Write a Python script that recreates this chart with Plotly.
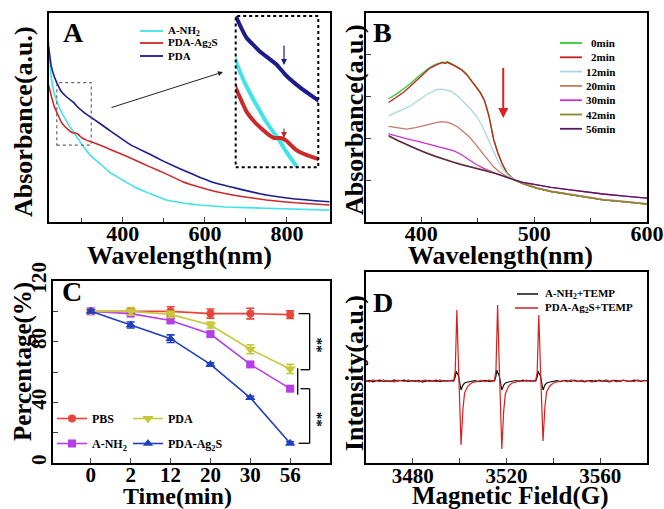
import plotly.graph_objects as go

W, H = 664, 509
def X(px): return px / W
def Y(py): return 1 - py / H

FONT = "Liberation Serif"

# ---------------- Panel A data (UV-vis) ----------------
a_nh2_nm = [219, 225, 232, 239, 247, 255, 262, 269, 276, 283, 290, 300, 320, 343, 370, 400, 430, 465, 506, 550, 587, 650, 750, 904]
a_nh2_abs = [0.863, 0.70, 0.62, 0.578, 0.54, 0.509, 0.485, 0.461, 0.441, 0.422, 0.40, 0.372, 0.32, 0.281, 0.235, 0.20, 0.165, 0.137, 0.105, 0.09, 0.081, 0.072, 0.066, 0.057]
pda_ag2s_nm = [219, 226, 233, 239, 250, 258, 266, 272, 278, 285, 290, 295, 300, 310, 323, 345, 372, 420, 465, 500, 546, 590, 628, 690, 750, 820, 904]
pda_ag2s_abs = [0.655, 0.60, 0.552, 0.525, 0.478, 0.458, 0.443, 0.433, 0.426, 0.426, 0.421, 0.412, 0.403, 0.393, 0.384, 0.367, 0.345, 0.305, 0.265, 0.235, 0.193, 0.165, 0.145, 0.122, 0.105, 0.092, 0.081]
pda_nm = [219, 225, 233, 239, 250, 263, 280, 290, 305, 323, 345, 372, 420, 465, 500, 546, 590, 628, 690, 750, 820, 904]
pda_abs = [0.839, 0.751, 0.695, 0.667, 0.624, 0.598, 0.572, 0.550, 0.525, 0.500, 0.47, 0.432, 0.368, 0.325, 0.29, 0.249, 0.212, 0.185, 0.155, 0.129, 0.11, 0.097]

# ---------------- Panel B data (time series spectra) ----------------
b_labels = ["0min", "2min", "12min", "20min", "30min", "42min", "56min"]
b_colors = ["#33cc33", "#c82020", "#a8d8e6", "#c47a66", "#cc33cc", "#8a8a2a", "#5a1a5a"]
nm_0 = [371, 378, 384, 390, 396, 401, 405, 409, 413, 416, 419, 421, 423, 426, 429, 432, 436, 440, 444, 448, 452, 456, 460, 464, 468, 472, 476, 480, 483, 490, 502, 515, 532, 546, 561, 580, 600]
abs_0 = [2.95, 3.06, 3.18, 3.30, 3.45, 3.57, 3.65, 3.72, 3.78, 3.80, 3.83, 3.81, 3.84, 3.80, 3.76, 3.72, 3.65, 3.55, 3.40, 3.28, 3.12, 2.92, 2.55, 2.00, 1.65, 1.38, 1.18, 1.07, 1.00, 0.92, 0.81, 0.73, 0.65, 0.59, 0.53, 0.48, 0.43]
abs_2 = [2.86, 2.98, 3.10, 3.24, 3.40, 3.53, 3.62, 3.70, 3.76, 3.79, 3.81, 3.79, 3.82, 3.77, 3.74, 3.70, 3.63, 3.53, 3.38, 3.26, 3.10, 2.90, 2.52, 1.98, 1.63, 1.37, 1.17, 1.06, 1.00, 0.92, 0.81, 0.73, 0.65, 0.59, 0.53, 0.48, 0.43]
nm_12 = [371, 380, 390, 398, 405, 410, 414, 418, 422, 426, 432, 437, 443, 449, 454, 458, 463, 468, 472, 477, 483, 490, 502, 515, 532, 546, 561, 580, 600]
abs_12 = [2.54, 2.64, 2.77, 2.92, 3.05, 3.12, 3.17, 3.18, 3.16, 3.13, 3.02, 2.89, 2.72, 2.53, 2.30, 2.05, 1.73, 1.45, 1.27, 1.12, 1.00, 0.93, 0.82, 0.74, 0.66, 0.60, 0.54, 0.49, 0.44]
nm_20 = [371, 380, 387, 395, 405, 412, 417, 422, 426, 432, 437, 442, 446, 451, 455, 460, 464, 469, 473, 478, 483, 490, 502, 515, 532, 546, 561, 580, 600]
abs_20 = [2.29, 2.25, 2.22, 2.26, 2.33, 2.38, 2.40, 2.39, 2.36, 2.28, 2.17, 2.05, 1.93, 1.76, 1.62, 1.45, 1.32, 1.20, 1.13, 1.06, 1.00, 0.93, 0.82, 0.74, 0.66, 0.60, 0.54, 0.49, 0.44]
nm_30 = [371, 380, 390, 398, 405, 412, 420, 429, 435, 440, 445, 449, 455, 461, 466, 470, 477, 483, 490, 502, 515, 532, 546, 561, 580, 600]
abs_30 = [2.11, 2.04, 1.97, 1.92, 1.87, 1.83, 1.77, 1.70, 1.62, 1.53, 1.44, 1.37, 1.29, 1.21, 1.16, 1.12, 1.05, 1.00, 0.95, 0.89, 0.83, 0.77, 0.72, 0.67, 0.62, 0.57]
nm_42 = [371, 380, 390, 398, 405, 412, 420, 428, 435, 443, 449, 455, 461, 467, 473, 478, 483, 490, 502, 515, 532, 546, 561, 580, 600]
abs_42 = [2.05, 1.93, 1.81, 1.72, 1.65, 1.58, 1.51, 1.44, 1.38, 1.33, 1.29, 1.25, 1.21, 1.15, 1.10, 1.05, 1.00, 0.92, 0.81, 0.73, 0.65, 0.59, 0.53, 0.48, 0.43]
abs_56 = [2.07, 1.94, 1.82, 1.72, 1.64, 1.57, 1.50, 1.43, 1.37, 1.32, 1.28, 1.24, 1.20, 1.15, 1.10, 1.05, 1.00, 0.95, 0.89, 0.83, 0.77, 0.72, 0.67, 0.62, 0.57]

# ---------------- Panel C data ----------------
c_times = ["0", "2", "12", "20", "30", "56"]
pbs_pct = [100, 100, 100, 98.5, 98.5, 97.8]
pbs_err = [1, 1.5, 3, 3, 3.5, 2.5]
pda_pct = [100, 100, 98, 91, 75, 62]
pda_err = [1, 2.5, 2, 2, 3, 3]
anh2_pct = [100, 98.5, 94, 85, 65, 49]
anh2_err = [1, 1, 1.5, 1.5, 1, 1]
ag2s_pct = [100, 91, 82, 65, 43, 13]
ag2s_err = [1, 2, 2.5, 1, 1, 1]

# ---------------- Panel D data (EPR) ----------------
d_field = [3460, 3461.5, 3463, 3464.5, 3466, 3467.5, 3469, 3470.5, 3472, 3473.5, 3475, 3476.5, 3478, 3479.5, 3481, 3482.5, 3484, 3485.5, 3487, 3488.5, 3490, 3491.5, 3493, 3494.5, 3496,
           3497.5, 3498.1, 3498.5, 3498.8, 3499.5, 3499.9, 3500.6, 3501.4, 3502.1, 3503.5, 3505,
           3506.5, 3508, 3509.5, 3511, 3512.5, 3514,
           3514.9, 3515.5, 3515.9, 3516.2, 3516.9, 3517.3, 3518.0, 3518.8, 3519.5, 3520.9, 3522.4,
           3524, 3525.5, 3527, 3528.5, 3530, 3531.2,
           3532.5, 3533.1, 3533.5, 3533.8, 3534.5, 3534.9, 3535.6, 3536.4, 3537.1, 3538.5, 3540,
           3541.5, 3543, 3544.5, 3546, 3547.5, 3549, 3550.5, 3552, 3553.5, 3555, 3556.5, 3558, 3559.5, 3561, 3562.5, 3564, 3565.5, 3567, 3568.5, 3570, 3571.5, 3573, 3574.5, 3576, 3577.5, 3579, 3580]
d_red = [0.5, -0.8, 1.0, 0.2, -0.6, 1.2, -0.3, 0.4, -1.0, 0.8, 0.0, -0.5, 1.1, -0.2, 0.6, -0.9, 0.3, 0.9, -0.4, 0.2, -0.7, 1.0, -0.1, 0.5, 0.8,
         1, 10, 40, 71, 15, -20, -64, -28, -12, -5, -2,
         -1.0, -0.2, 0.6, -0.5, 0.9, 0.2,
         1, 11, 42, 76, 16, -21, -68, -30, -13, -5, -2,
         -1.2, 0.3, -0.4, 0.8, -0.2, 0.6,
         1, 9, 36, 66, 13, -18, -60, -26, -11, -5, -2,
         -1.0, -0.3, 0.5, -0.8, 1.0, 0.1, -0.6, 0.9, -0.2, 0.4, -1.1, 0.7, 0.0, -0.5, 1.2, -0.3, 0.6, -0.9, 0.3, 0.8, -0.4, 0.2, -0.7, 1.0, -0.2, 0.5, 0.0]
d_black = [-0.3, 0.6, -0.9, 0.4, 0.8, -0.5, 0.2, -0.7, 1.0, -0.2, 0.5, 0.9, -0.6, 0.3, -0.4, 0.7, -1.0, 0.1, 0.6, -0.3, 0.8, -0.5, 0.4, -0.2, 0.3,
           0, 4, 10, 8, 5, 0, -9, -4, -2, -1, 0,
           0.4, -0.6, 0.2, 0.7, -0.3, 0.1,
           0, 5, 11, 9, 5, 0, -9, -4, -2, -1, 0,
           0.5, -0.4, 0.8, -0.2, 0.3, -0.1,
           0, 4, 10, 8, 5, 0, -9, -4, -2, -1, 0,
           0.3, -0.7, 0.6, 0.1, -0.5, 0.9, -0.3, 0.2, -0.8, 0.5, 0.4, -0.6, 0.8, -0.2, 0.1, -0.9, 0.6, 0.3, -0.4, 0.7, -0.1, -0.5, 0.9, 0.2, -0.3, 0.6, 0.1]

fig = go.Figure()

# ----- Panel A main + inset
a_series = [("A-NH<sub>2</sub>", a_nh2_nm, a_nh2_abs, "#3fe3e8"),
            ("PDA-Ag<sub>2</sub>S", pda_ag2s_nm, pda_ag2s_abs, "#cc2a2a"),
            ("PDA", pda_nm, pda_abs, "#1c1c8c")]
for name, xs, ys, col in a_series:
    fig.add_trace(go.Scatter(x=xs, y=ys, mode="lines", line=dict(color=col, width=1.6, shape="spline", smoothing=0.3),
                             xaxis="x", yaxis="y", showlegend=False, name=name))
for name, xs, ys, col in a_series:
    fig.add_trace(go.Scatter(x=xs, y=ys, mode="lines", line=dict(color=col, width=4, shape="spline", smoothing=0.3),
                             xaxis="x5", yaxis="y5", showlegend=False, name=name))

# ----- Panel B
b_x = [nm_0, nm_0, nm_12, nm_20, nm_30, nm_42, nm_42]
b_y = [abs_0, abs_2, abs_12, abs_20, abs_30, abs_42, abs_56]
for lab, xs, ys, col in zip(b_labels, b_x, b_y, b_colors):
    fig.add_trace(go.Scatter(x=xs, y=ys, mode="lines", line=dict(color=col, width=1.3),
                             xaxis="x2", yaxis="y2", showlegend=False, name=lab))

# ----- Panel C
c_idx = list(range(len(c_times)))
c_series = [("PBS", pbs_pct, pbs_err, "#e8453a", "circle", 8, "legend3"),
            ("A-NH<sub>2</sub>", anh2_pct, anh2_err, "#b53ee6", "square", 8, "legend3"),
            ("PDA", pda_pct, pda_err, "#c8c83c", "triangle-down", 10, "legend4"),
            ("PDA-Ag<sub>2</sub>S", ag2s_pct, ag2s_err, "#1f3fbf", "triangle-up", 9, "legend4")]
for name, ys, es, col, sym, sz, leg in c_series:
    fig.add_trace(go.Scatter(x=c_idx, y=ys, mode="lines+markers", name=name,
                             line=dict(color=col, width=1.6),
                             marker=dict(symbol=sym, size=sz, color=col),
                             error_y=dict(type="data", array=es, visible=True, thickness=1.6, width=4, color=col),
                             xaxis="x3", yaxis="y3", legend=leg, legendgroup=name))

# ----- Panel D
fig.add_trace(go.Scatter(x=d_field, y=d_black, mode="lines", line=dict(color="#111111", width=1.2),
                         xaxis="x4", yaxis="y4", showlegend=False, name="A-NH2+TEMP"))
fig.add_trace(go.Scatter(x=d_field, y=d_red, mode="lines", line=dict(color="#d42020", width=1.2),
                         xaxis="x4", yaxis="y4", showlegend=False, name="PDA-Ag2S+TEMP"))

tickfont = dict(family=FONT, size=22, color="black", weight="bold")
tickfont_s = dict(family=FONT, size=21, color="black", weight="bold")
frame = dict(showline=True, mirror=True, linecolor="black", linewidth=1.5, showgrid=False, zeroline=False,
             automargin=False)

fig.update_layout(
    width=W, height=H, autosize=False, margin=dict(l=0, r=0, t=0, b=0, pad=0, autoexpand=False),
    paper_bgcolor="white", plot_bgcolor="rgba(0,0,0,0)", showlegend=True,
    xaxis=dict(domain=[X(49), X(330)], range=[220, 905], anchor="y", ticks="inside", ticklen=5, tickwidth=1.3,
               tickvals=[400, 600, 800], tickfont=tickfont, ticklabelstandoff=-9,
               minor=dict(tickvals=[300, 500, 700], ticks="inside", ticklen=4, tickwidth=1.2), **frame),
    yaxis=dict(domain=[Y(222), Y(13)], range=[0, 1.0], anchor="x", showticklabels=False, ticks="", **frame),
    xaxis2=dict(domain=[X(366), X(647)], range=[351, 600], anchor="y2", ticks="inside", ticklen=5, tickwidth=1.3,
                tickvals=[400, 500, 600], tickfont=tickfont, ticklabelstandoff=-9,
                minor=dict(tickvals=[450, 550], ticks="inside", ticklen=4, tickwidth=1.2), **frame),
    yaxis2=dict(domain=[Y(222), Y(13)], range=[0, 5], anchor="x2", showticklabels=False, ticks="inside",
                tickvals=[1, 2, 3, 4], ticklen=5, tickwidth=1.3, **frame),
    xaxis3=dict(domain=[X(53), X(330)], range=[-0.95, 6.0], anchor="y3", ticks="inside", ticklen=5, tickwidth=1.3,
                tickvals=c_idx, ticktext=c_times, tickfont=tickfont_s, ticklabelstandoff=-8, **frame),
    yaxis3=dict(domain=[Y(463), Y(281)], range=[0, 120], anchor="x3", ticks="inside", ticklen=5, tickwidth=1.3,
                tickvals=[0, 40, 80, 120], tickangle=-90, tickfont=tickfont_s, ticklabelstandoff=-3,
                minor=dict(tickvals=[20, 60, 100], ticks="inside", ticklen=5, tickwidth=1.3), **frame),
    xaxis4=dict(domain=[X(366), X(647)], range=[3460, 3580], anchor="y4", ticks="inside", ticklen=5, tickwidth=1.3,
                tickvals=[3480, 3520, 3560], tickfont=tickfont_s, ticklabelstandoff=-7,
                minor=dict(tickvals=[3500, 3540], ticks="inside", ticklen=5, tickwidth=1.3), **frame),
    yaxis4=dict(domain=[Y(463), Y(272)], range=[-82, 109], anchor="x4", showticklabels=False, ticks="", **frame),
    xaxis5=dict(domain=[X(235.7), X(318.3)], range=[239, 323], anchor="y5", visible=False, automargin=False),
    yaxis5=dict(domain=[Y(167.3), Y(16)], range=[0.368, 0.667], anchor="x5", visible=False, automargin=False),
    legend3=dict(x=X(52), y=Y(404), xanchor="left", yanchor="top", bgcolor="rgba(0,0,0,0)",
                 font=dict(family=FONT, size=12, color="black", weight="bold"), tracegroupgap=6, itemwidth=30),
    legend4=dict(x=X(128), y=Y(404), xanchor="left", yanchor="top", bgcolor="rgba(0,0,0,0)",
                 font=dict(family=FONT, size=12, color="black", weight="bold"), tracegroupgap=6, itemwidth=30),
)

shapes = []
ann = []

def text(px, py, s, size, angle=0, xanchor="center", color="black"):
    ann.append(dict(x=X(px), y=Y(py), xref="paper", yref="paper", text=s, showarrow=False, textangle=angle,
                    xanchor=xanchor, yanchor="middle", font=dict(family=FONT, size=size, color=color, weight="bold")))

def arrow(hx, hy, tx, ty, color, width):
    ann.append(dict(x=X(hx), y=Y(hy), ax=tx - hx, ay=ty - hy, xref="paper", yref="paper", axref="pixel", ayref="pixel",
                    showarrow=True, arrowhead=2, arrowsize=1, arrowwidth=width, arrowcolor=color, text=""))

# panel letters
text(73, 33, "A", 28)
text(382, 33, "B", 28)
text(72, 291, "C", 28)
text(383, 302, "D", 28)

# axis titles
text(24, 122, "Absorbance(a.u.)", 26, angle=-90)
text(354, 120, "Absorbance(a.u.)", 26, angle=-90)
text(179, 256, "Wavelength(nm)", 26)
text(500, 256, "Wavelength(nm)", 26)
text(23, 362, "Percentage(%)", 25, angle=-90)
text(177, 496, "Time(min)", 24)
text(354, 373, "Intensity(a.u.)", 26, angle=-90)
text(510, 496, "Magnetic Field(G)", 25)

# manual legend A
for (name, _, _, col), py in zip(a_series, [31, 43, 56]):
    shapes.append(dict(type="line", xref="paper", yref="paper", x0=X(140), x1=X(163), y0=Y(py), y1=Y(py),
                       line=dict(color=col, width=1.8)))
    text(166, py, name, 11, xanchor="left")

# manual legend B
for i, (lab, col) in enumerate(zip(b_labels, b_colors)):
    py = 43 + i * 14.3
    shapes.append(dict(type="line", xref="paper", yref="paper", x0=X(560), x1=X(582), y0=Y(py), y1=Y(py),
                       line=dict(color=col, width=1.8)))
    ann.append(dict(x=X(617), y=Y(py), xref="paper", yref="paper", text=lab, showarrow=False,
                    xanchor="right", yanchor="middle", font=dict(family=FONT, size=11, color="black", weight="bold")))

# manual legend D
shapes.append(dict(type="line", xref="paper", yref="paper", x0=X(517), x1=X(538), y0=Y(294), y1=Y(294),
                   line=dict(color="#111111", width=1.5)))
shapes.append(dict(type="line", xref="paper", yref="paper", x0=X(515), x1=X(538), y0=Y(308), y1=Y(308),
                   line=dict(color="#d42020", width=1.5)))
text(543, 294, "A-NH<sub>2</sub>+TEMP", 11, xanchor="left")
text(543, 308, "PDA-Ag<sub>2</sub>S+TEMP", 11, xanchor="left")

# Panel A boxes and arrows
shapes.append(dict(type="rect", xref="x", yref="y", x0=239, x1=323, y0=0.368, y1=0.667,
                   line=dict(color="#666666", width=1.2, dash="dot")))
shapes.append(dict(type="rect", xref="paper", yref="paper", x0=X(235.7), x1=X(318.3), y0=Y(167.3), y1=Y(16),
                   line=dict(color="black", width=2, dash="dot")))
arrow(223, 72, 110, 108, "#222222", 1)
arrow(284, 65, 284, 44, "#1c1c8c", 1.2)
arrow(284, 138, 284, 127, "#b03030", 1.2)

# Panel B red arrow
ann.append(dict(x=472.6, y=2.49, ax=472.6, ay=3.72, xref="x2", yref="y2", axref="x2", ayref="y2",
                showarrow=True, arrowhead=2, arrowsize=1, arrowwidth=2, arrowcolor="#e02020", text=""))

# Panel C significance brackets
def seg(x0, y0, x1, y1):
    shapes.append(dict(type="line", xref="x3", yref="y3", x0=x0, y0=y0, x1=x1, y1=y1,
                       line=dict(color="black", width=1.3)))
seg(5.21, 98.5, 5.49, 98.5); seg(5.49, 98.5, 5.49, 61.5); seg(5.26, 61.5, 5.49, 61.5)
seg(5.19, 62.5, 5.19, 45)
seg(5.26, 49, 5.49, 49); seg(5.49, 49, 5.49, 13); seg(5.21, 13, 5.49, 13)
ann.append(dict(x=5.68, y=78, xref="x3", yref="y3", text="**", showarrow=False, textangle=90,
                font=dict(family=FONT, size=15, color="black", weight="bold")))
ann.append(dict(x=5.68, y=29, xref="x3", yref="y3", text="**", showarrow=False, textangle=90,
                font=dict(family=FONT, size=15, color="black", weight="bold")))

fig.update_layout(shapes=shapes, annotations=ann)
fig.write_html("out.html", config={"displayModeBar": False},
               post_script="document.body.style.margin='0';document.body.style.overflow='hidden';")
